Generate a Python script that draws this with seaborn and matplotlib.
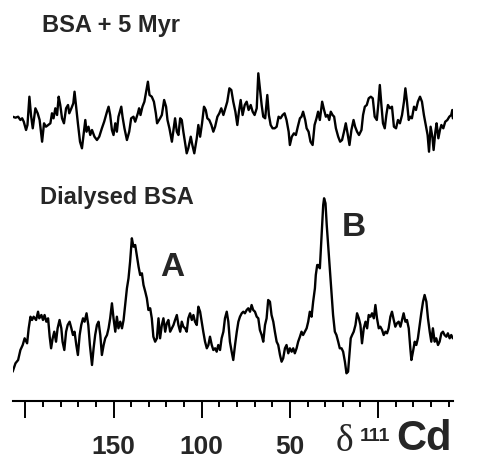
import matplotlib
matplotlib.use("Agg")
import matplotlib.pyplot as plt
import pandas as pd
import seaborn as sns

# ---------------- data (chemical shift in ppm, intensity in arbitrary units) -------------
myr_shift = [207.2, 205.6, 204.1, 202.8, 201.8, 200.9, 199.6, 198.8, 197.7, 196.8, 195.8, 194.3,
             193.0, 191.9, 190.5, 189.4, 188.3, 187.1, 185.8, 184.9, 184.0, 183.0, 182.0, 181.1,
             180.2, 179.2, 178.1, 176.9, 175.8, 175.1, 173.9, 172.8, 172.1, 171.1, 170.2, 169.0,
             167.9, 166.8, 166.0, 165.3, 164.2, 163.2, 162.2, 160.8, 159.4, 158.1, 156.6, 155.3,
             153.7, 152.8, 151.9, 150.9, 150.0, 149.0, 148.1, 147.2, 145.6, 144.9, 143.8, 142.4,
             141.1, 140.0, 138.7, 137.7, 136.2, 135.5, 134.7, 133.6, 132.5, 131.5, 130.5, 129.6,
             128.3, 127.1, 126.0, 125.3, 123.6, 122.6, 121.3, 120.2, 119.4, 118.3, 116.9, 116.0,
             115.1, 114.1, 113.2, 112.2, 111.3, 110.4, 109.4, 108.5, 107.6, 106.2, 105.3, 104.2,
             102.8, 101.9, 100.9, 99.8, 98.7, 97.7, 96.8, 95.7, 94.5, 93.4, 92.4, 91.1,
             90.0, 88.9, 87.7, 86.6, 85.5, 84.3, 83.2, 82.1, 80.9, 79.8, 78.9, 77.9,
             76.8, 75.6, 74.5, 73.4, 72.2, 71.1, 70.0, 68.8, 67.9, 67.0, 66.0, 65.1,
             64.0, 62.8, 61.9, 60.9, 59.8, 58.6, 57.5, 56.4, 55.3, 54.1, 53.0, 51.9,
             50.7, 50.0, 48.9, 47.7, 46.6, 45.5, 44.3, 43.4, 42.5, 41.3, 40.5, 39.4,
             38.3, 37.1, 36.0, 34.9, 34.0, 33.0, 31.7, 30.6, 29.6, 28.6, 27.7, 26.8,
             25.8, 24.9, 23.9, 22.6, 21.5, 20.4, 19.3, 18.3, 17.3, 16.2, 15.1, 13.9,
             13.0, 11.9, 10.8, 9.4, 8.5, 7.5, 6.4, 5.3, 4.1, 3.0, 1.9, 0.7,
             -0.2, -1.0, -1.9, -2.8, -3.8, -4.7, -5.6, -6.8, -7.9, -9.0, -10.2, -11.3,
             -12.4, -13.6, -14.7, -15.5, -16.4, -17.4, -18.3, -19.2, -20.4, -21.5, -22.6, -23.8,
             -24.9, -26.0, -27.2, -28.1, -28.9, -29.8, -30.8, -31.5, -32.5, -33.2, -34.2, -35.1,
             -35.9, -37.0, -38.1, -39.3, -40.4, -41.5, -42.1, -42.4]
myr_intensity = [3.3, 2.3, 3.3, 0, 1.7, -1.7, -10, -5, 23.3, 5, -8.3, 11.7,
                 6.7, 0, -21.7, -3.3, -6.7, -5, -3.3, 6.7, 1.7, 11.7, 5, 23.3,
                 15, 1.7, -3.3, 11.7, 15, 6.7, 11.7, 16.7, 28.3, 11.7, -3.3, -21.7,
                 -28.3, -11.7, 0, -11.7, -6.7, -15, -10, -16.7, -20, -16.7, -8.3, -1.7,
                 8.3, 13.3, 5, -10, -15, -3.3, -11.7, 3.3, 13.3, 3.3, -8.3, -20,
                 -11.7, 1.7, 3.3, -1.7, 6.7, 11.7, 5, 13.3, 18.3, 28.3, 38.3, 25,
                 23.3, 18.3, 6.7, -3.3, 1.7, 5, 20, 13.3, 0, -8.3, -21.7, -10,
                 1.7, -11.7, -15, 1.7, 0, -11.7, -23.3, -33.3, -28.3, -16.7, -25, -33.3,
                 -18.3, -5, -16.7, -3.3, 13.3, 10, 1.7, 0, -5, -11.7, -6.7, 3.3,
                 6.7, 11.7, 5, 11.7, 18.3, 31.7, 30, 18.3, 8.3, -5, 8.3, 20,
                 5, 15, 18.3, 10, 15, 8.3, 5, 11.7, 46.7, 31.7, 15, 3.3,
                 1.7, 25, 5, -5, -8.3, -8.3, -6.7, 3.3, 1.7, 5, 6.7, 0,
                 -11.7, -25, -16.7, -13.3, -15, -6.7, 1.7, 3.3, 8.3, 0, -8.3, -11.7,
                 -21.7, -25, -5, 1.7, 8.3, 0, 18.3, 10, 3.3, 5, 0, 8.3,
                 5, 3.3, -8.3, -16.7, -21.7, -20, -11.7, -3.3, -13.3, -25, -10, 0,
                 -6.7, -11.7, -15, -10, 5, 13.3, 15, 21.7, 23.3, 21.7, 3.3, 0,
                 16.7, 35, 15, -3.3, -8.3, 5, 15, 11.7, 13.3, -6.7, -8.3, 0,
                 -3.3, 5, 18.3, 31.7, 18.3, 0, 3.3, 1.7, 13.3, 10, 18.3, 23.3,
                 18.3, 5, -6.7, -15, -31.7, -6.7, -16.7, -30, -11.7, -3.3, -18.3, -10,
                 -5, -8.3, -1.7, 0, 3.3, 5, 10, 1.7]

dial_shift = [207.2, 205.6, 204.1, 202.8, 201.5, 200.4, 199.0, 198.1, 197.1, 196.2, 195.3, 193.9,
              192.8, 192.1, 190.9, 190.0, 189.1, 188.1, 187.1, 186.2, 185.4, 184.5, 183.6, 182.6,
              181.7, 180.6, 179.6, 178.9, 177.9, 176.9, 176.0, 174.9, 173.9, 173.0, 172.1, 171.1,
              170.2, 169.2, 168.3, 167.3, 166.4, 165.3, 164.3, 163.4, 162.2, 161.3, 160.4, 159.4,
              158.5, 157.5, 156.6, 155.6, 154.7, 153.7, 152.8, 151.9, 150.9, 150.0, 149.0, 148.1,
              147.2, 146.2, 145.2, 144.3, 143.4, 142.4, 141.5, 140.6, 139.6, 138.7, 137.7, 136.8,
              135.8, 134.9, 133.9, 133.0, 132.0, 131.1, 130.2, 129.2, 128.3, 127.4, 126.4, 125.4,
              124.5, 123.6, 122.6, 121.7, 120.7, 119.8, 118.9, 117.9, 116.9, 116.0, 115.1, 114.1,
              113.2, 112.2, 111.3, 110.4, 109.4, 108.5, 107.6, 106.6, 105.6, 104.7, 103.8, 102.8,
              101.9, 100.9, 100.0, 99.1, 98.1, 97.1, 96.2, 95.3, 94.3, 93.4, 92.4, 91.5,
              90.6, 89.6, 88.7, 87.7, 86.8, 85.8, 84.9, 84.0, 83.0, 82.1, 81.1, 80.1,
              79.2, 78.3, 77.3, 76.4, 75.5, 74.5, 73.6, 72.6, 71.7, 70.8, 69.8, 68.8,
              67.9, 67.0, 66.0, 65.1, 64.1, 63.2, 62.3, 61.3, 60.4, 59.4, 58.5, 57.5,
              56.6, 55.6, 54.7, 53.8, 52.8, 51.9, 50.9, 50.0, 49.0, 48.1, 47.2, 46.2,
              45.3, 44.3, 43.4, 42.5, 41.5, 40.5, 39.6, 38.7, 37.7, 36.8, 35.8, 35.3,
              34.5, 34.0, 33.0, 32.0, 31.1, 30.6, 29.8, 29.1, 28.3, 27.4, 26.4, 25.5,
              24.5, 23.6, 22.6, 21.7, 20.7, 19.8, 18.8, 17.9, 17.0, 16.4, 15.5, 14.7,
              13.8, 12.8, 11.9, 10.9, 10.0, 9.1, 8.1, 7.1, 6.2, 5.3, 4.3, 3.4,
              2.4, 1.5, 0.6, -0.4, -1.3, -2.3, -3.2, -4.2, -5.1, -6.0, -7.0, -7.9,
              -8.9, -9.8, -10.7, -11.7, -12.7, -13.6, -14.5, -15.5, -16.4, -17.4, -18.3, -18.9,
              -19.8, -20.8, -21.7, -22.6, -23.6, -24.5, -25.5, -26.4, -27.4, -28.3, -29.3, -30.2,
              -31.1, -32.1, -33.0, -34.0, -34.9, -35.9, -36.8, -37.7, -38.7, -39.6, -40.6, -41.5,
              -42.4]
dial_intensity = [-31.7, -23.3, -20, -10, -5, 1.7, -3.3, 11.7, 23.3, 20, 23.3, 20,
                  28.3, 21.7, 25, 20, 25, 18.3, 21.7, 3.3, -8.3, 1.7, 8.3, -1.7,
                  11.7, 20, 11.7, -1.7, -10, 8.3, 15, 18.3, 11.7, 5, 8.3, -5,
                  -15, 5, 15, 21.7, 18.3, 26.7, 15, -5, -25, -8.3, 5, 15,
                  18.3, 5, -15, -5, 1.7, 5, 11.7, 21.7, 36.7, 21.7, 8.3, 23.3,
                  11.7, 18.3, 11.7, 20, 35, 51.7, 61.7, 78.3, 101.7, 93.3, 95, 85,
                  73.3, 65, 66.7, 55, 48.3, 41.7, 30, 31.7, 21.7, 3.3, -1.7, 1.7,
                  21.7, 1.7, 15, 21.7, 8.3, 16.7, 20, 8.3, 11.7, 15, 20, 25,
                  15, 8.3, 18.3, 13.3, 11.7, 8.3, 21.7, 26.7, 20, 25, 18.3, 15,
                  33.3, 28.3, 18.3, 8.3, -1.7, -8.3, -5, 3.3, -5, -10, -8.3, -11.7,
                  -5, -10, 1.7, 8.3, 21.7, 28.3, 18.3, -1.7, -11.7, -20, -5, 8.3,
                  18.3, 23.3, 26.7, 28.3, 26.7, 30, 31.7, 28.3, 35, 30, 28.3, 23.3,
                  21.7, 10, 5, -1.7, 15, 21.7, 40, 38.3, 25, 18.3, 8.3, -1.7,
                  -5, -15, -21.7, -18.3, -8.3, -5, -13.3, -8.3, -11.7, -8.3, -13.3, -8.3,
                  -1.7, 3.3, 8.3, 5, 8.3, 11.7, 18.3, 28.3, 23.3, 38.3, 51.7, 65,
                  75, 75, 71.7, 105, 135, 141.7, 136.7, 115, 95, 71.7, 48.3, 25,
                  8.3, 5, -1.7, -8.3, -8.3, -11.7, -21.7, -33.3, -31.7, -18.3, 1.7, 5,
                  8.3, 15, 26.7, 21.7, 15, -3.3, 11.7, 18.3, 11.7, 25, 23.3, 26.7,
                  21.7, 35, 21.7, 11.7, 13.3, 10, 5, 8.3, 6.7, 11.7, 23.3, 28.3,
                  20, 13.3, 16.7, 18.3, 13.3, 20, 26.7, 18.3, 20, 11.7, -8.3, -20,
                  -11.7, -1.7, -5, 1.7, 15, 26.7, 38.3, 45, 38.3, 21.7, 8.3, -1.7,
                  11.7, -1.7, 1.7, -5, -1.7, 6.7, 8.3, 5, 3.3, 6.7, 1.7, 5,
                  1.7]

major_ticks = [200, 150, 100, 50, 0]
major_labels = ["", "150", "100", "50", ""]
minor_ticks = [190, 180, 170, 160, 140, 130, 120, 110, 90, 80, 70, 60,
               40, 30, 20, 10, -10, -20, -30, -40]
shift_limits = (207.0, -42.5)

top_title = "BSA + 5 Myr"
bottom_title = "Dialysed BSA"
peak_labels = ["A", "B"]
peak_label_shift = [123.6, 20.6]
peak_label_intensity = [64.5, 103.5]

# ---------------- drawing -------------
sns.set_style("white")
plt.rcParams["font.family"] = ["Liberation Sans", "DejaVu Sans"]

W, H = 484, 459
fig = plt.figure(figsize=(W / 100, H / 100), dpi=100)

ax_top = fig.add_axes([13 / W, 1 - 165 / H, 440 / W, 100 / H])
ax_bot = fig.add_axes([13 / W, 1 - 400.7 / H, 440 / W, 215.7 / H])

df_top = pd.DataFrame({"shift": myr_shift, "intensity": myr_intensity})
df_bot = pd.DataFrame({"shift": dial_shift, "intensity": dial_intensity})

sns.lineplot(data=df_top, x="shift", y="intensity", ax=ax_top, color="black",
             linewidth=1.7, sort=False, estimator=None)
sns.lineplot(data=df_bot, x="shift", y="intensity", ax=ax_bot, color="black",
             linewidth=1.7, sort=False, estimator=None)

for ax in (ax_top, ax_bot):
    ax.set_xlim(*shift_limits)
    ax.set_xlabel("")
    ax.set_ylabel("")
    ax.set_yticks([])
    ax.patch.set_alpha(0)
    for s in ("top", "left", "right"):
        ax.spines[s].set_visible(False)

ax_top.set_ylim(-45, 55)
ax_top.spines["bottom"].set_visible(False)
ax_top.set_xticks([])

ax_bot.set_ylim(-60.7, 155)
ax_bot.spines["bottom"].set_linewidth(1.5)
ax_bot.spines["bottom"].set_color("black")
ax_bot.set_xticks(major_ticks)
ax_bot.set_xticklabels(major_labels, fontsize=19, fontweight="bold")
ax_bot.set_xticks(minor_ticks, minor=True)
ax_bot.tick_params(axis="x", which="major", direction="out", length=12, width=1.4,
                   pad=13, color="black", bottom=True)
ax_bot.tick_params(axis="x", which="minor", direction="out", length=4.5, width=1.4,
                   color="black", bottom=True)

for lab, xs, ys in zip(peak_labels, peak_label_shift, peak_label_intensity):
    ax_bot.text(xs, ys, lab, fontsize=24, fontweight="bold", ha="left", va="baseline")

fig.text(41.7 / W, 1 - 32.3 / H, top_title, fontsize=17, fontweight="bold",
         ha="left", va="baseline")
fig.text(40 / W, 1 - 204.3 / H, bottom_title, fontsize=17, fontweight="bold",
         ha="left", va="baseline")

# axis label: δ 111Cd
fig.text(336 / W, 1 - 451 / H, "δ", fontsize=27, family=["Liberation Serif", "DejaVu Serif"],
         ha="left", va="baseline")
fig.text(360 / W, 1 - 441 / H, "111", fontsize=14, fontweight="bold", ha="left", va="baseline")
fig.text(396 / W, 1 - 450 / H, "Cd", fontsize=30, fontweight="bold", ha="left", va="baseline")

fig.savefig("out.png", dpi=100)
